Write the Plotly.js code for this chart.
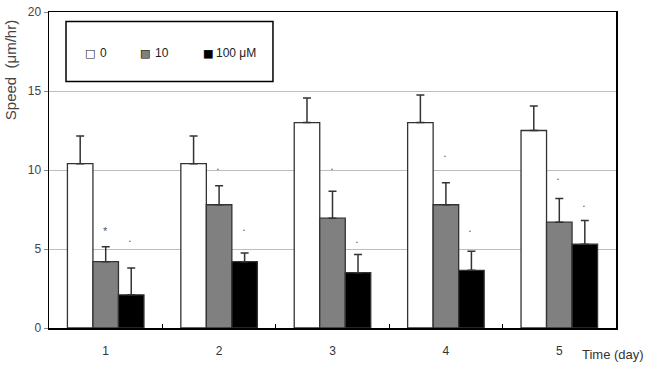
<!DOCTYPE html>
<html>
<head>
<meta charset="utf-8">
<script src="https://cdn.plot.ly/plotly-3.0.1.min.js"></script>
<style>html,body{margin:0;padding:0;background:#fff;}#chart{width:646px;height:374px;}</style>
</head>
<body>
<div id="chart"></div>
<script>
const days = ['1', '2', '3', '4', '5'];
const seriesNames = ['0', '10', '100 μM'];
const speed0 = [10.4, 10.4, 13.0, 13.0, 12.5];
const err0 = [1.75, 1.75, 1.55, 1.75, 1.55];
const speed10 = [4.2, 7.8, 6.95, 7.8, 6.7];
const err10 = [0.95, 1.2, 1.7, 1.4, 1.5];
const speed100 = [2.1, 4.2, 3.5, 3.65, 5.3];
const err100 = [1.7, 0.55, 1.15, 1.2, 1.5];
const starMark10 = ['*', '•', '•', '•', '•'];
const starY10 = [6.15, 10.05, 10.05, 10.9, 9.4];
const starMark100 = ['•', '•', '•', '•', '•'];
const starY100 = [5.5, 6.2, 5.45, 6.15, 7.75];
const yTicks = [0, 5, 10, 15, 20];

const fills = ['#ffffff', '#808080', '#000000'];
const values = [speed0, speed10, speed100];
const errs = [err0, err10, err100];
const FONT = 'Liberation Sans, Arial, sans-serif';

const traces = values.map((v, i) => ({
  type: 'bar',
  name: seriesNames[i],
  x: days,
  y: v,
  marker: {color: fills[i], line: {color: '#333', width: 1.3}},
  error_y: {type: 'data', symmetric: false, array: errs[i], arrayminus: days.map(() => 0),
            color: '#333', thickness: 1.5, width: 4}
}));

const annotations = [];
const starSets = [[starMark10, starY10, 0], [starMark100, starY100, 1]];
starSets.forEach(([marks, ys, j]) => {
  days.forEach((d, k) => {
    const big = marks[k] === '*';
    annotations.push({
      x: k, xref: 'x', y: ys[k], yref: 'y', yanchor: 'middle',
      xshift: j * 25.5 + (big ? 0 : -1),
      text: marks[k], showarrow: false,
      font: {family: FONT, size: big ? 11 : 5, color: '#555'}
    });
  });
});

// legend drawn as text
const legSquareX = [0.0723, 0.1693, 0.2804];
const legTextX = [0.0864, 0.1834, 0.291];
const legY = 0.870;
seriesNames.forEach((n, i) => {
  if (i > 0) {
    annotations.push({xref: 'paper', yref: 'paper', x: legSquareX[i], y: legY,
      xanchor: 'center', yanchor: 'middle', text: '■', showarrow: false,
      font: {family: 'DejaVu Sans', size: 11, color: fills[i]}});
  }
  annotations.push({xref: 'paper', yref: 'paper', x: legSquareX[i], y: legY,
    xanchor: 'center', yanchor: 'middle', text: '□', showarrow: false,
    font: {family: 'DejaVu Sans', size: 11, color: '#222'}});
  annotations.push({xref: 'paper', yref: 'paper', x: legTextX[i], y: legY,
    xanchor: 'left', yanchor: 'middle', text: n, showarrow: false,
    font: {family: FONT, size: 12, color: '#222'}});
});

annotations.push({
  xref: 'paper', yref: 'paper', x: -0.069, y: 0.98, xanchor: 'center', yanchor: 'top',
  text: 'Speed  (μm/hr)', textangle: -90, showarrow: false,
  font: {family: FONT, size: 15, color: '#444'}
});
annotations.push({
  xref: 'paper', yref: 'paper', x: 0.937, y: -0.085, xanchor: 'left', yanchor: 'middle',
  text: 'Time (day)', showarrow: false,
  font: {family: FONT, size: 13, color: '#333'}
});

const layout = {
  width: 646, height: 374,
  margin: {l: 49, r: 30, t: 12, b: 46},
  paper_bgcolor: '#fff', plot_bgcolor: '#fff',
  barmode: 'group', bargap: 0.325, bargroupgap: 0,
  showlegend: false,
  font: {family: FONT, size: 12, color: '#333'},
  xaxis: {type: 'category', showline: true, linecolor: '#000', linewidth: 1.5, mirror: true,
          ticks: 'inside', tickson: 'boundaries', ticklen: 4, tickcolor: '#000',
          showgrid: false, ticklabelstandoff: 11,
          tickfont: {family: FONT, size: 12, color: '#333'}},
  yaxis: {range: [0, 20], tickvals: yTicks, ticktext: yTicks.map(String),
          showline: true, linecolor: '#000', linewidth: 1.5, mirror: true,
          ticks: 'outside', ticklen: 4, tickcolor: '#888',
          showgrid: true, gridcolor: '#bdbdbd', gridwidth: 1, zeroline: false,
          tickfont: {family: FONT, size: 12, color: '#444'}},
  shapes: [{type: 'rect', xref: 'paper', yref: 'paper',
            x0: 0.030, x1: 0.395, y0: 0.780, y1: 0.970,
            line: {color: '#000', width: 1.5}, fillcolor: '#fff', layer: 'below'}],
  annotations: annotations
};

Plotly.newPlot('chart', traces, layout, {displayModeBar: false, staticPlot: true});
</script>
</body>
</html>
